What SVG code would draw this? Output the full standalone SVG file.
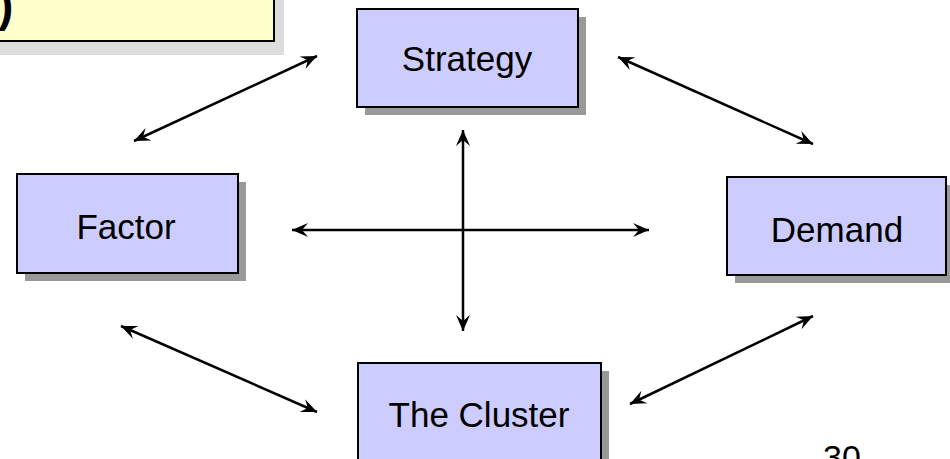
<svg xmlns="http://www.w3.org/2000/svg" width="950" height="459" viewBox="0 0 950 459">
<defs>
<style>
.box{fill:#CCCCFF;stroke:#000;stroke-width:2}
.sh{fill:#999999}
.lbl{font-family:"Liberation Sans",Arial,sans-serif;font-size:35px;fill:#000;text-anchor:middle}
.con{stroke:#000;stroke-width:2.5;fill:none;marker-start:url(#ah);marker-end:url(#ah)}
</style>
<marker id="ah" markerUnits="userSpaceOnUse" viewBox="-16 -8 17 16" refX="0" refY="0" markerWidth="17" markerHeight="16" orient="auto-start-reverse">
<path d="M0,0 L-16,-7 L-10,0 L-16,7 Z" fill="#000"/>
</marker>
</defs>
<rect width="950" height="459" fill="#fff"/>
<g id="note">
<rect x="-20" y="-20" width="304" height="75" fill="#DDDDDD"/>
<rect x="-30" y="-30" width="304" height="71" fill="#FFFFCC" stroke="#000" stroke-width="2"/>
<text x="-2" y="21" font-family="Liberation Sans,Arial,sans-serif" font-size="46" font-weight="bold">)</text>
</g>
<g id="connectors">
<line class="con" x1="317" y1="56" x2="134" y2="141"/>
<line class="con" x1="618" y1="57" x2="813" y2="144"/>
<line class="con" x1="121" y1="326" x2="317" y2="412"/>
<line class="con" x1="630" y1="404" x2="813" y2="316"/>
<line class="con" x1="292" y1="230" x2="649" y2="230"/>
<line class="con" x1="463" y1="130" x2="463" y2="331"/>
</g>
<g id="strategy">
<rect class="sh" x="365" y="17" width="221" height="98"/>
<rect class="box" x="357" y="9" width="221" height="98"/>
<text class="lbl" x="467" y="71">Strategy</text>
</g>
<g id="factor">
<rect class="sh" x="25" y="182" width="221" height="99"/>
<rect class="box" x="17" y="174" width="221" height="99"/>
<text class="lbl" x="126" y="239">Factor</text>
</g>
<g id="demand">
<rect class="sh" x="735" y="185" width="219" height="98"/>
<rect class="box" x="727" y="177" width="219" height="98"/>
<text class="lbl" x="837" y="242">Demand</text>
</g>
<g id="cluster">
<rect class="sh" x="366" y="371" width="243" height="110"/>
<rect class="box" x="358" y="363" width="243" height="110"/>
<text class="lbl" x="479" y="427">The Cluster</text>
</g>
<text x="823" y="469" font-family="Liberation Sans,Arial,sans-serif" font-size="34">30</text>
</svg>
